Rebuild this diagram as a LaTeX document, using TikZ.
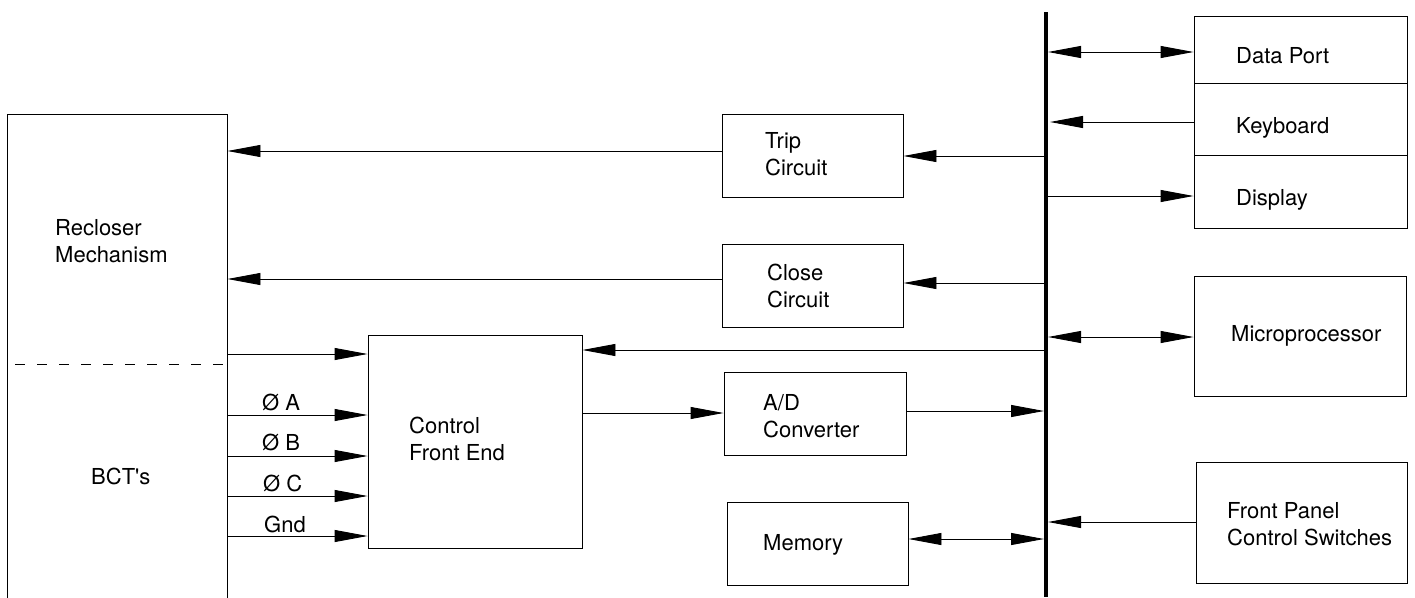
\documentclass[tikz,border=0pt]{standalone}
\usepackage{fontspec}
\setmainfont{TeX Gyre Heros}
\usetikzlibrary{arrows.meta}
\begin{document}
\begin{tikzpicture}[x=1pt,y=-1pt,
  box/.style={draw, line width=0.9pt, inner sep=0pt},
  txt/.style={font=\fontsize{22}{27}\selectfont, inner sep=0pt, anchor=base west, align=left},
  conn/.style={line width=0.9pt},
  arr/.style={conn, -{Triangle[length=33pt,width=12pt]}},
  darr/.style={conn, {Triangle[length=33pt,width=12pt]}-{Triangle[length=33pt,width=12pt]}}]
\useasboundingbox (0,0) rectangle (1415,597);
\fill[white] (0,0) rectangle (1415,597);
% boxes
\node[box, minimum width=220pt, minimum height=506pt] (recl) at (117,367) {};
\node[box, minimum width=214pt, minimum height=213pt] (cfe) at (475,441.5) {};
\node[box, minimum width=181pt, minimum height=83pt] (trip) at (812.5,155.5) {};
\node[box, minimum width=181pt, minimum height=83pt] (close) at (812.5,285.5) {};
\node[box, minimum width=182pt, minimum height=83pt] (ad) at (815,413.5) {};
\node[box, minimum width=181pt, minimum height=83pt] (mem) at (817.5,543.5) {};
\node[box, minimum width=213pt, minimum height=67pt] (dp) at (1300.5,49.5) {};
\node[box, minimum width=213pt, minimum height=72pt] (kb) at (1300.5,119) {};
\node[box, minimum width=213pt, minimum height=73pt] (disp) at (1300.5,191.5) {};
\node[box, minimum width=212pt, minimum height=120pt] (micro) at (1300,336) {};
\node[box, minimum width=211pt, minimum height=121pt] (fp) at (1301.5,522.5) {};
% texts (base anchor = baseline of last line)
\node[txt] (trecl) at (55,262) {Recloser\\Mechanism};
\node[txt] (tbct) at (91,484) {BCT\textquotesingle s};
\node[txt] (tcfe) at (409,460) {Control\\Front End};
\node[txt] (ttrip) at (765,175) {Trip\\Circuit};
\node[txt] (tclose) at (767,307) {Close\\Circuit};
\node[txt] (tad) at (763,437) {A/D\\Converter};
\node[txt] (tmem) at (763,550) {Memory};
\node[txt] (tdp) at (1236,63) {Data Port};
\node[txt] (tkb) at (1236,133) {Keyboard};
\node[txt] (tdisp) at (1236,205) {Display};
\node[txt] (tmicro) at (1231,341) {Microprocessor};
\node[txt] (tfp) at (1227,545) {Front Panel\\Control Switches};
% dashed separator
\coordinate (dashL) at (15,364);
\draw[conn, dash pattern=on 10pt off 12pt] (dashL) -- (dashL -| recl.east);
% bus
\coordinate (busT) at (1046,12);
\coordinate (busB) at (1046,597);
\draw[line width=4pt] (busT) -- (busB);
% left side connectors
\coordinate (t1) at (722,151);
\draw[arr] (t1) -- (t1 -| recl.east);
\coordinate (c1) at (722,279);
\draw[arr] (c1) -- (c1 -| recl.east);
\coordinate (r1) at (227,354);
\draw[arr] (r1) -- (r1 -| cfe.west);
\coordinate (pa) at (227,415);
\coordinate (pb) at (227,456);
\coordinate (pc) at (227,496);
\coordinate (pg) at (227,536);
\draw[arr] (pa) -- (pa -| cfe.west);
\draw[arr] (pb) -- (pb -| cfe.west);
\draw[arr] (pc) -- (pc -| cfe.west);
\draw[arr] (pg) -- (pg -| cfe.west);
\node[txt] (la) at (262,410) {Ø A};
\node[txt] (lb) at (262,450) {Ø B};
\node[txt] (lc) at (263,491) {Ø C};
\node[txt] (lg) at (264,532) {Gnd};
% bus to middle
\coordinate (b1) at (1044,156);
\draw[arr] (b1) -- (b1 -| trip.east);
\coordinate (b2) at (1044,283);
\draw[arr] (b2) -- (b2 -| close.east);
\coordinate (b3) at (1044,350);
\draw[arr] (b3) -- (b3 -| cfe.east);
\coordinate (f1) at (582,413);
\draw[arr] (f1) -- (f1 -| ad.west);
\coordinate (b4) at (1044,411);
\draw[arr] (b4 -| ad.east) -- (b4);
\coordinate (b5) at (1044,539);
\draw[darr] (b5 -| mem.east) -- (b5);
% bus to right
\coordinate (r2) at (1048,52);
\draw[darr] (r2) -- (r2 -| dp.west);
\coordinate (r3) at (1050,122);
\draw[arr] (r3 -| kb.west) -- (r3);
\coordinate (r4) at (1048,196);
\draw[arr] (r4) -- (r4 -| disp.west);
\coordinate (r5) at (1048,337);
\draw[darr] (r5) -- (r5 -| micro.west);
\coordinate (r6) at (1048,522);
\draw[arr] (r6 -| fp.west) -- (r6);
\end{tikzpicture}
\end{document}
